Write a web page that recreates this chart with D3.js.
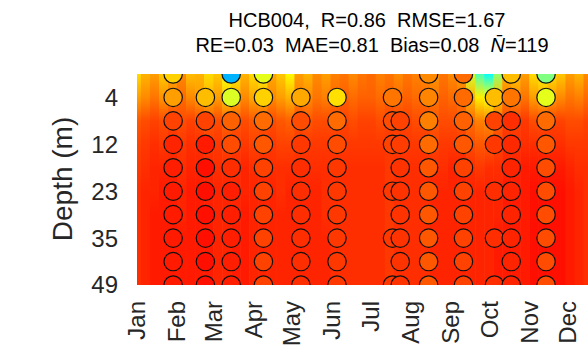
<!DOCTYPE html>
<html>
<head>
<meta charset="utf-8">
<script src="https://cdn.jsdelivr.net/npm/d3@7"></script>
<style>
  html, body { margin: 0; padding: 0; background: #fff; }
  svg { display: block; font-family: "Liberation Sans", Arial, sans-serif; }
  .title { white-space: pre; }
</style>
</head>
<body>
<svg id="chart" width="588" height="355"></svg>
<script>
// ---------------- data ----------------
const titleLine1 = "HCB004,  R=0.86  RMSE=1.67";
const titleLine2a = "RE=0.03  MAE=0.81  Bias=0.08  ";
const titleLine2b = "=119";
const yLabel = "Depth (m)";
const monthLabels = ["Jan","Feb","Mar","Apr","May","Jun","Jul","Aug","Sep","Oct","Nov","Dec"];
const depthLevels = [0, 4, 8, 12, 17, 23, 29, 35, 42, 49];
const depthTicks = [4, 12, 23, 35, 49];
const colorLimits = [25, 35];

// model field: day of year of each column, and values at each depth level
const bgDays = [0,7,14,21,28,35,42,49,56,63,70,77,84,91,98,105,112,119,126,133,140,147,154,161,168,175,182,189,196,203,210,217,224,231,238,245,252,259,266,273,280,287,294,301,308,315,322,329,336,343,350,357,364];
const bgL1 = [31.6,32.0,32.2,31.8,32.1,32.4,31.9,32.0,31.6,31.8,31.2,31.5,32.0,31.6,31.4,32.1,31.8,31.3,32.2,32.0,32.4,32.2,32.5,32.6,32.4,32.6,32.7,32.5,32.6,32.4,32.6,32.5,32.4,32.3,32.6,32.4,32.2,30.8,29.5,28.8,30.2,32.0,31.8,32.2,31.6,31.4,31.6,31.8,32.2,32.0,32.4,32.2,32.0];
const bgL2 = [32.2,32.4,32.6,32.3,32.5,32.7,32.4,32.2,32.0,32.2,31.8,32.0,32.4,32.1,32.0,32.4,32.2,32.0,32.5,32.4,32.6,32.5,32.7,32.8,32.7,32.8,32.8,32.7,32.8,32.7,32.8,32.7,32.7,32.6,32.8,32.7,32.6,32.0,31.4,31.2,31.8,32.5,32.4,32.6,32.2,32.0,32.2,32.4,32.6,32.5,32.7,32.6,32.5];
const bgL3 = [32.9,33.0,33.1,33.0,33.1,33.0,33.1,33.0,32.9,33.0,32.8,32.9,33.0,32.9,32.9,33.0,32.9,32.8,33.0,32.9,33.0,33.0,33.0,33.1,33.0,33.1,33.1,33.0,33.1,33.1,33.1,33.0,33.0,32.9,33.0,33.0,32.9,32.7,32.5,32.4,32.8,33.1,33.1,33.2,33.0,33.0,33.1,33.1,33.0,33.0,33.1,33.0,33.0];
const bgL4 = [33.1,33.2,33.3,33.2,33.3,33.2,33.3,33.3,33.2,33.2,33.1,33.2,33.2,33.1,33.2,33.2,33.1,33.1,33.2,33.2,33.2,33.2,33.2,33.2,33.2,33.2,33.2,33.2,33.2,33.2,33.2,33.2,33.2,33.1,33.2,33.2,33.2,33.0,32.9,32.9,33.1,33.3,33.3,33.3,33.3,33.3,33.3,33.3,33.2,33.2,33.2,33.2,33.2];
const bgL5 = [33.2,33.3,33.4,33.4,33.4,33.3,33.4,33.4,33.4,33.3,33.3,33.3,33.4,33.3,33.3,33.3,33.3,33.3,33.3,33.3,33.3,33.3,33.3,33.3,33.3,33.3,33.3,33.3,33.2,33.3,33.3,33.3,33.3,33.3,33.3,33.4,33.4,33.3,33.2,33.3,33.3,33.4,33.4,33.5,33.5,33.5,33.5,33.5,33.4,33.3,33.3,33.3,33.3];
const bgL6 = [33.3,33.4,33.4,33.5,33.5,33.4,33.5,33.5,33.4,33.4,33.4,33.4,33.4,33.4,33.4,33.4,33.3,33.4,33.4,33.4,33.4,33.3,33.3,33.3,33.3,33.3,33.3,33.3,33.2,33.3,33.3,33.3,33.3,33.4,33.4,33.4,33.4,33.4,33.4,33.4,33.4,33.5,33.5,33.5,33.6,33.6,33.6,33.6,33.5,33.4,33.3,33.4,33.4];
const bgL7 = [33.3,33.4,33.5,33.5,33.5,33.4,33.5,33.5,33.5,33.4,33.4,33.4,33.5,33.4,33.4,33.4,33.4,33.4,33.4,33.4,33.4,33.3,33.3,33.3,33.3,33.3,33.3,33.3,33.2,33.3,33.3,33.3,33.3,33.4,33.4,33.4,33.4,33.4,33.4,33.4,33.4,33.5,33.5,33.5,33.6,33.6,33.6,33.6,33.5,33.4,33.3,33.4,33.4];
const bgL8 = [33.3,33.4,33.5,33.5,33.5,33.5,33.5,33.5,33.5,33.4,33.4,33.5,33.5,33.4,33.4,33.4,33.4,33.4,33.4,33.4,33.4,33.4,33.3,33.3,33.3,33.3,33.3,33.3,33.2,33.3,33.3,33.3,33.3,33.4,33.4,33.4,33.4,33.4,33.4,33.4,33.5,33.5,33.5,33.5,33.6,33.6,33.6,33.6,33.5,33.4,33.3,33.4,33.4];
const bgL9 = [33.3,33.4,33.5,33.5,33.5,33.5,33.5,33.5,33.5,33.4,33.4,33.5,33.5,33.4,33.4,33.4,33.4,33.4,33.4,33.4,33.4,33.4,33.3,33.3,33.3,33.3,33.3,33.3,33.2,33.3,33.3,33.3,33.3,33.4,33.4,33.4,33.4,33.4,33.4,33.4,33.5,33.5,33.5,33.5,33.6,33.6,33.6,33.6,33.5,33.4,33.3,33.4,33.4];
const bgL10 = [33.3,33.4,33.5,33.5,33.5,33.5,33.5,33.5,33.5,33.4,33.4,33.5,33.5,33.4,33.4,33.4,33.4,33.4,33.4,33.4,33.4,33.4,33.3,33.3,33.3,33.3,33.3,33.3,33.2,33.3,33.3,33.3,33.3,33.4,33.4,33.4,33.4,33.4,33.4,33.4,33.5,33.5,33.5,33.5,33.6,33.6,33.6,33.6,33.5,33.4,33.3,33.4,33.4];

// observations: day of year of each cast, and values at each depth level (null = none)
const obsDays = [28, 53, 73, 98, 127, 155, 198, 204, 226, 253, 277, 290, 317];
const obsValues = [
  [31.7, 32.2, 33.1, 33.4, 33.45, 33.5, 33.5, 33.5, 33.5, 33.5],
  [null, 31.9, 33.1, 33.5, 33.6, 33.6, 33.6, 33.6, 33.6, 33.6],
  [28.0, 30.9, 32.8, 33.0, 33.3, 33.45, 33.45, 33.45, 33.45, 33.45],
  [31.0, 31.7, 32.7, 32.9, 33.1, 33.1, 33.1, 33.1, 33.1, 33.1],
  [null, 32.1, 33.0, 33.2, 33.3, 33.3, 33.3, 33.3, 33.3, 33.3],
  [null, 31.55, 32.7, 33.0, 33.2, 33.2, 33.2, 33.2, 33.2, 33.2],
  [null, 32.6, 33.0, 33.1, null, 33.2, null, 33.2, null, 33.2],
  [null, null, 33.1, 33.15, 33.25, 33.25, 33.25, 33.25, 33.25, 33.25],
  [32.4, 32.45, 32.5, 32.7, 32.9, 32.9, 32.9, 32.9, 32.9, 32.9],
  [32.7, 32.7, 32.8, 32.9, 33.1, 33.1, 33.1, 33.1, 33.1, 33.1],
  [null, 31.9, 33.1, 33.2, null, 33.3, null, 33.3, null, 33.3],
  [31.9, 32.6, 33.3, 33.35, 33.4, 33.4, 33.4, 33.4, 33.4, 33.4],
  [30.0, 31.0, 32.7, 32.9, 33.0, 33.0, 33.0, 33.0, 33.0, 33.0]
];

// ---------------- drawing ----------------
const bgLevels = [bgL1,bgL2,bgL3,bgL4,bgL5,bgL6,bgL7,bgL8,bgL9,bgL10];
const year = 2019;
const dayToDate = d => new Date(Date.UTC(year, 0, 1 + d));

const plot = {left: 137, top: 74, bottom: 285, right: 608};
const svg = d3.select("#chart");

const x = d3.scaleUtc()
  .domain([new Date(Date.UTC(year,0,1)), new Date(Date.UTC(year+1,0,1))])
  .range([plot.left, plot.right]);
const y = d3.scalePoint().domain(depthLevels).range([plot.top, plot.bottom]);

// MATLAB jet
function jet(t) {
  const c = v => Math.max(0, Math.min(1, v));
  const r = c(1.5 - Math.abs(4*t - 3));
  const g = c(1.5 - Math.abs(4*t - 2));
  const b = c(1.5 - Math.abs(4*t - 1));
  return d3.rgb(r*255, g*255, b*255).formatHex();
}
const tScale = d3.scaleLinear().domain(colorLimits).range([0,1]).clamp(true);
const color = v => jet(tScale(v));

const defs = svg.append("defs");
defs.append("clipPath").attr("id","plotclip").append("rect")
  .attr("x", plot.left).attr("y", plot.top)
  .attr("width", plot.right - plot.left).attr("height", plot.bottom - plot.top);

// background field: one column per model time step, vertical shading between levels
const span = plot.bottom - plot.top;
bgDays.forEach((d, i) => {
  const gid = "g" + i;
  const grad = defs.append("linearGradient").attr("id", gid)
    .attr("x1",0).attr("y1",0).attr("x2",0).attr("y2",1);
  depthLevels.forEach((lv, k) => {
    grad.append("stop")
      .attr("offset", (y(lv) - plot.top) / span)
      .attr("stop-color", color(bgLevels[k][i]));
  });
});
const gBg = svg.append("g").attr("clip-path","url(#plotclip)");
gBg.selectAll("rect").data(bgDays).join("rect")
  .attr("x", d => x(dayToDate(d - 3.5)))
  .attr("width", d => x(dayToDate(d + 3.5)) - x(dayToDate(d - 3.5)) + 0.6)
  .attr("y", plot.top).attr("height", span)
  .attr("fill", (d, i) => `url(#g${i})`);

// observation circles
const pts = [];
obsDays.forEach((d, i) => {
  obsValues[i].forEach((v, k) => {
    if (v !== null) pts.push({day: d, depth: depthLevels[k], v});
  });
});
const gObs = svg.append("g").attr("clip-path","url(#plotclip)");
gObs.selectAll("circle").data(pts).join("circle")
  .attr("cx", p => x(dayToDate(p.day)))
  .attr("cy", p => y(p.depth))
  .attr("r", 9.2)
  .attr("fill", p => color(p.v))
  .attr("stroke", "#111")
  .attr("stroke-width", 1.2);

// y axis labels
svg.append("g").selectAll("text").data(depthTicks).join("text")
  .attr("x", 118).attr("y", d => y(d)).attr("dy", "0.35em")
  .attr("text-anchor", "end").attr("font-size", 24).attr("fill", "#262626")
  .text(d => d);

// x axis labels
const monthDates = monthLabels.map((m, i) => new Date(Date.UTC(year, i, 1)));
svg.append("g").selectAll("text").data(monthDates).join("text")
  .attr("transform", d => `translate(${x(d)},301) rotate(-90)`)
  .attr("dy", "0.35em").attr("text-anchor", "end")
  .attr("font-size", 24).attr("fill", "#262626")
  .text((d, i) => monthLabels[i]);

// y axis title
svg.append("text")
  .attr("transform", "translate(72,179) rotate(-90)")
  .attr("text-anchor", "middle").attr("font-size", 28).attr("fill", "#262626")
  .text(yLabel);

// title
const t1 = svg.append("text").attr("class","title").attr("xml:space","preserve")
  .attr("text-anchor","middle").attr("font-size", 20).attr("fill","#000")
  .attr("x", 367).attr("y", 27).text(titleLine1);
const t2 = svg.append("text").attr("class","title").attr("xml:space","preserve")
  .attr("text-anchor","middle").attr("font-size", 20).attr("fill","#000")
  .attr("x", 372).attr("y", 52);
t2.append("tspan").text(titleLine2a);
t2.append("tspan").attr("font-style","italic").text("N\u0304");
t2.append("tspan").text(titleLine2b);
</script>
</body>
</html>
